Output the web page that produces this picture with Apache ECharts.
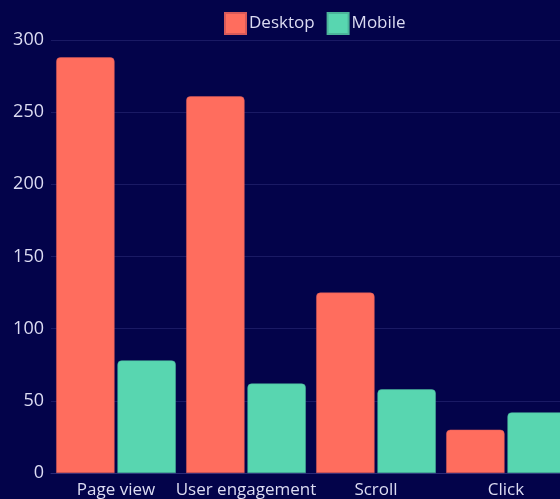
<!DOCTYPE html>
<html>
<head>
<meta charset="utf-8">
<script src="https://cdn.jsdelivr.net/npm/echarts@6/dist/echarts.min.js"></script>
<style>
  html, body { margin: 0; padding: 0; background: #03034a; overflow: hidden; }
  #main { width: 580px; height: 499px; }
</style>
</head>
<body>
<div id="main"></div>
<script>
// data
var categories = ["Page view", "User engagement", "Scroll", "Click"];
var desktop = [288, 261, 125, 30];
var mobile = [78, 62, 58, 42];
var seriesNames = ["Desktop", "Mobile"];

// the original is cropped on the right, so the chart is a bit wider than the window
var chart = echarts.init(document.getElementById("main"));
var textColor = "#dcdcf2";
var font = "'Open Sans', 'Noto Sans', sans-serif";

var option = {
  backgroundColor: "#03034a",
  animation: false,
  textStyle: { fontFamily: font },
  legend: {
    top: 7,
    left: 219,
    itemWidth: 21,
    itemHeight: 21,
    itemGap: 12,
    icon: "rect",
    textStyle: { color: textColor, fontSize: 17, fontFamily: font, padding: [0, 0, 0, -2] },
    data: seriesNames
  },
  grid: {
    left: 51,
    top: 40,
    right: 9,
    bottom: 26,
    containLabel: false
  },
  xAxis: {
    type: "category",
    data: categories,
    axisLine: { lineStyle: { color: "#2a2a78" } },
    axisTick: { show: false },
    axisLabel: { color: textColor, fontSize: 17, margin: 9, interval: 0 }
  },
  yAxis: {
    type: "value",
    min: 0,
    max: 300,
    interval: 50,
    axisLine: { show: false },
    axisTick: { show: false },
    splitLine: { lineStyle: { color: "#1a1a64", width: 1 } },
    axisLabel: { color: textColor, fontSize: 18, margin: 7 }
  },
  series: [
    {
      name: seriesNames[0],
      type: "bar",
      data: desktop,
      barGap: "5%",
      barCategoryGap: "8%",
      itemStyle: { color: "#ff6d5e", borderRadius: [4, 4, 0, 0], borderColor: "#d85a5a", borderWidth: 0.5 }
    },
    {
      name: seriesNames[1],
      type: "bar",
      data: mobile,
      itemStyle: { color: "#58d6b0", borderRadius: [4, 4, 0, 0], borderColor: "#4bb49a", borderWidth: 0.5 }
    }
  ]
};

chart.setOption(option);
</script>
</body>
</html>
